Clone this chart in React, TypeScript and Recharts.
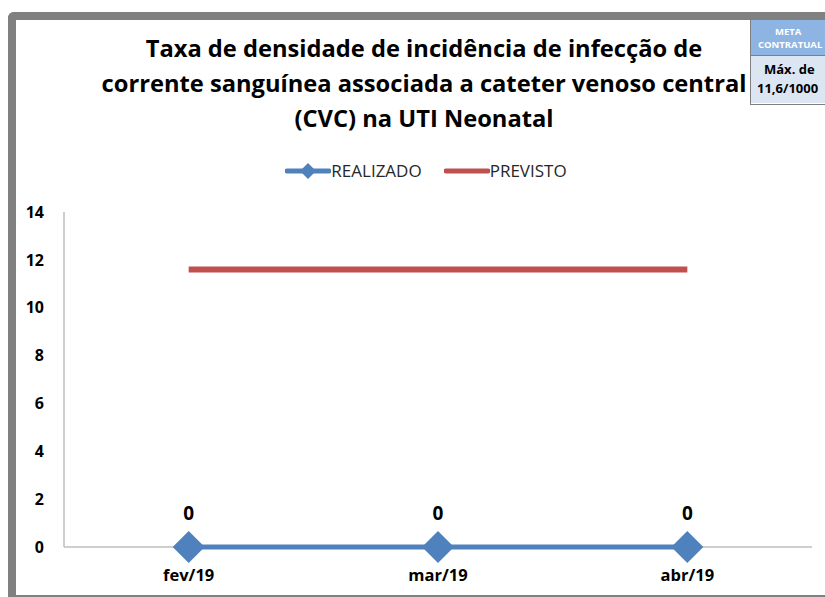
import React from 'react'
import { LineChart, Line, XAxis, YAxis, LabelList } from 'recharts'

const categories = ['fev/19', 'mar/19', 'abr/19']
const realizado = [0, 0, 0]
const previsto = [11.6, 11.6, 11.6]
const yTicks = [0, 2, 4, 6, 8, 10, 12, 14]

const data = categories.map((mes, i) => ({
    mes,
    realizado: realizado[i],
    previsto: previsto[i],
}))

const BLUE = '#4F81BD'
const RED = '#C0504D'
const FONT = '"Open Sans", "Liberation Sans", sans-serif'

const Diamond = (props: any) => {
    const { cx, cy } = props
    const h = 16
    if (cx == null || cy == null) return null
    return (
        <polygon
            points={`${cx},${cy - h} ${cx + h},${cy} ${cx},${cy + h} ${cx - h},${cy}`}
            fill={BLUE}
        />
    )
}

const LegendBox = () => (
    <div style={{ position: 'absolute', left: 0, top: 159, width: 852, display: 'flex', justifyContent: 'center', alignItems: 'center', fontFamily: FONT, fontSize: 17, color: '#262626' }}>
        <svg width={46} height={18}>
            <line x1={2} y1={9} x2={44} y2={9} stroke={BLUE} strokeWidth={5} strokeLinecap="round" />
            <polygon points="23,1 31,9 23,17 15,9" fill={BLUE} />
        </svg>
        <span style={{ marginRight: 22 }}>REALIZADO</span>
        <svg width={46} height={18}>
            <line x1={2} y1={9} x2={44} y2={9} stroke={RED} strokeWidth={5} strokeLinecap="round" />
        </svg>
        <span>PREVISTO</span>
    </div>
)

export default function App() {
    const lineProps: any = { zIndex: 700 }
    return (
        <div style={{ position: 'absolute', left: 0, top: 0, width: 825, height: 597, overflow: 'hidden', background: '#fff', fontFamily: FONT }}>
            <div style={{
                position: 'absolute', left: 8, top: 12, width: 900, height: 575,
                borderLeft: '8px solid #808080', borderTop: '8px solid #808080', borderBottom: '2px solid #808080',
                borderTopLeftRadius: 6,
            }} />
            <div style={{
                position: 'absolute', left: 0, top: 31, width: 848, textAlign: 'center',
                fontSize: 23.7, fontWeight: 700, lineHeight: '35px', color: '#000',
            }}>
                Taxa de densidade de incidência de infecção de<br />
                corrente sanguínea associada a cateter venoso central<br />
                (CVC) na UTI Neonatal
            </div>
            <div style={{ position: 'absolute', left: 750, top: 19, width: 90, height: 84, border: '1px solid #7F7F7F', fontFamily: FONT }}>
                <div style={{ height: 36, background: '#8DB4E2', color: '#fff', fontSize: 9.5, fontWeight: 700, lineHeight: '13px', paddingTop: 5, paddingLeft: 7, boxSizing: 'border-box', borderBottom: '1px solid #7F7F7F' }}>
                    <div style={{ paddingLeft: 17 }}>META</div>
                    <div>CONTRATUAL</div>
                </div>
                <div style={{ height: 47, background: '#DCE6F2', color: '#000', fontSize: 13, fontWeight: 700, lineHeight: '19px', paddingTop: 4, paddingLeft: 6, boxSizing: 'border-box' }}>
                    <div style={{ paddingLeft: 7 }}>Máx. de</div>
                    <div>11,6/1000</div>
                </div>
            </div>
            <LegendBox />
            <div style={{ position: 'absolute', left: 0, top: 0 }}>
                <LineChart width={825} height={597} data={data} margin={{ top: 212, right: 13, bottom: 20, left: 24 }}>
                    <XAxis
                        dataKey="mes"
                        scale="band"
                        axisLine={{ stroke: '#BFBFBF', strokeWidth: 1.5 }}
                        tickLine={false}
                        tickMargin={16}
                        height={30}
                        tick={{ fill: '#000', fontSize: 16.5, fontWeight: 700, fontFamily: FONT }}
                    />
                    <YAxis
                        domain={[0, 14]}
                        ticks={yTicks}
                        width={40}
                        axisLine={{ stroke: '#BFBFBF', strokeWidth: 1.5 }}
                        tickLine={false}
                        tickMargin={14}
                        tick={{ fill: '#000', fontSize: 16, fontWeight: 700, fontFamily: FONT }}
                    />
                    <Line
                        {...lineProps}
                        dataKey="previsto"
                        name="PREVISTO"
                        stroke={RED}
                        strokeWidth={6}
                        dot={false}
                        isAnimationActive={false}
                    />
                    <Line
                        {...lineProps}
                        dataKey="realizado"
                        name="REALIZADO"
                        stroke={BLUE}
                        strokeWidth={5}
                        dot={<Diamond />}
                        activeDot={false}
                        isAnimationActive={false}
                    >
                        <LabelList dataKey="realizado" position="top" offset={27} fill="#000" fontSize={19} fontWeight={700} fontFamily={FONT} />
                    </Line>
                </LineChart>
            </div>
        </div>
    )
}
